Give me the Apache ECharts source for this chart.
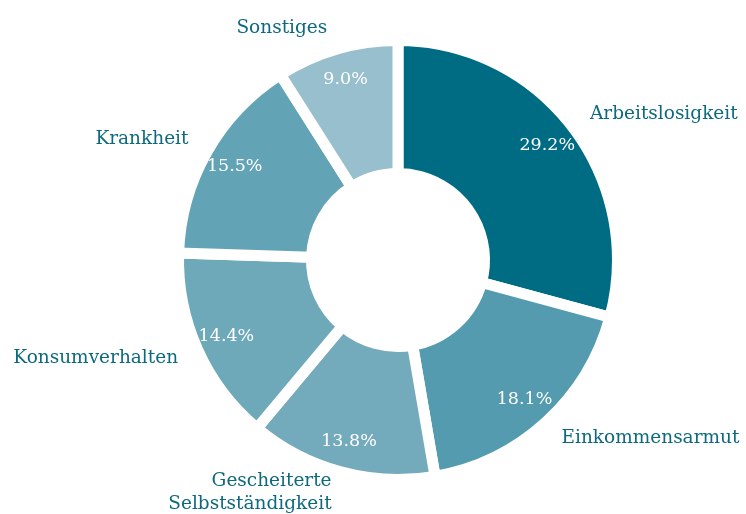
<!DOCTYPE html>
<html><head><meta charset="utf-8">
<script src="https://cdn.jsdelivr.net/npm/echarts@6/dist/echarts.min.js"></script>
<style>html,body{margin:0;padding:0;background:#fff}#c{width:746px;height:514px}</style>
</head><body><div id="c"></div>
<script>
const categories = ["Arbeitslosigkeit", "Einkommensarmut", "Gescheiterte\nSelbstständigkeit", "Konsumverhalten", "Krankheit", "Sonstiges"];
const values = [29.2, 18.1, 13.8, 14.4, 15.5, 9.0];
const colors = ["#006c84", "#549bb0", "#74abbc", "#6ea9ba", "#63a3b6", "#97bfcd"];
const labelShiftY = [-3, 4, 5, 2, -4, -6];

const chart = echarts.init(document.getElementById('c'));
const font = '"DejaVu Serif", serif';
chart.setOption({
  animation: false,
  series: [{
    type: 'pie',
    center: [398, 260],
    radius: [86.5, 219.5],
    startAngle: 90,
    clockwise: true,
    avoidLabelOverlap: false,
    itemStyle: { borderColor: '#fff', borderWidth: 11 },
    label: {
      show: true, position: 'outside', color: '#0d6a7e',
      fontFamily: font, fontSize: 18.5, lineHeight: 23,
      distanceToLabelLine: 5
    },
    labelLine: { show: false, length: 16, length2: 0 },
    labelLayout: p => ({ dy: labelShiftY[p.dataIndex] }),
    emphasis: { disabled: true },
    data: categories.map((n, i) => ({ name: n, value: values[i], itemStyle: { color: colors[i] } }))
  }, {
    type: 'pie',
    center: [398, 260],
    radius: [150, 220],
    startAngle: 90,
    clockwise: true,
    silent: true,
    avoidLabelOverlap: false,
    itemStyle: { color: 'rgba(0,0,0,0)', borderWidth: 0 },
    label: {
      show: true, position: 'inside', color: '#fff',
      fontFamily: font, fontSize: 17.5,
      formatter: p => p.value.toFixed(1) + '%'
    },
    labelLine: { show: false },
    emphasis: { disabled: true },
    data: categories.map((n, i) => ({ name: n, value: values[i] }))
  }]
});
</script></body></html>
